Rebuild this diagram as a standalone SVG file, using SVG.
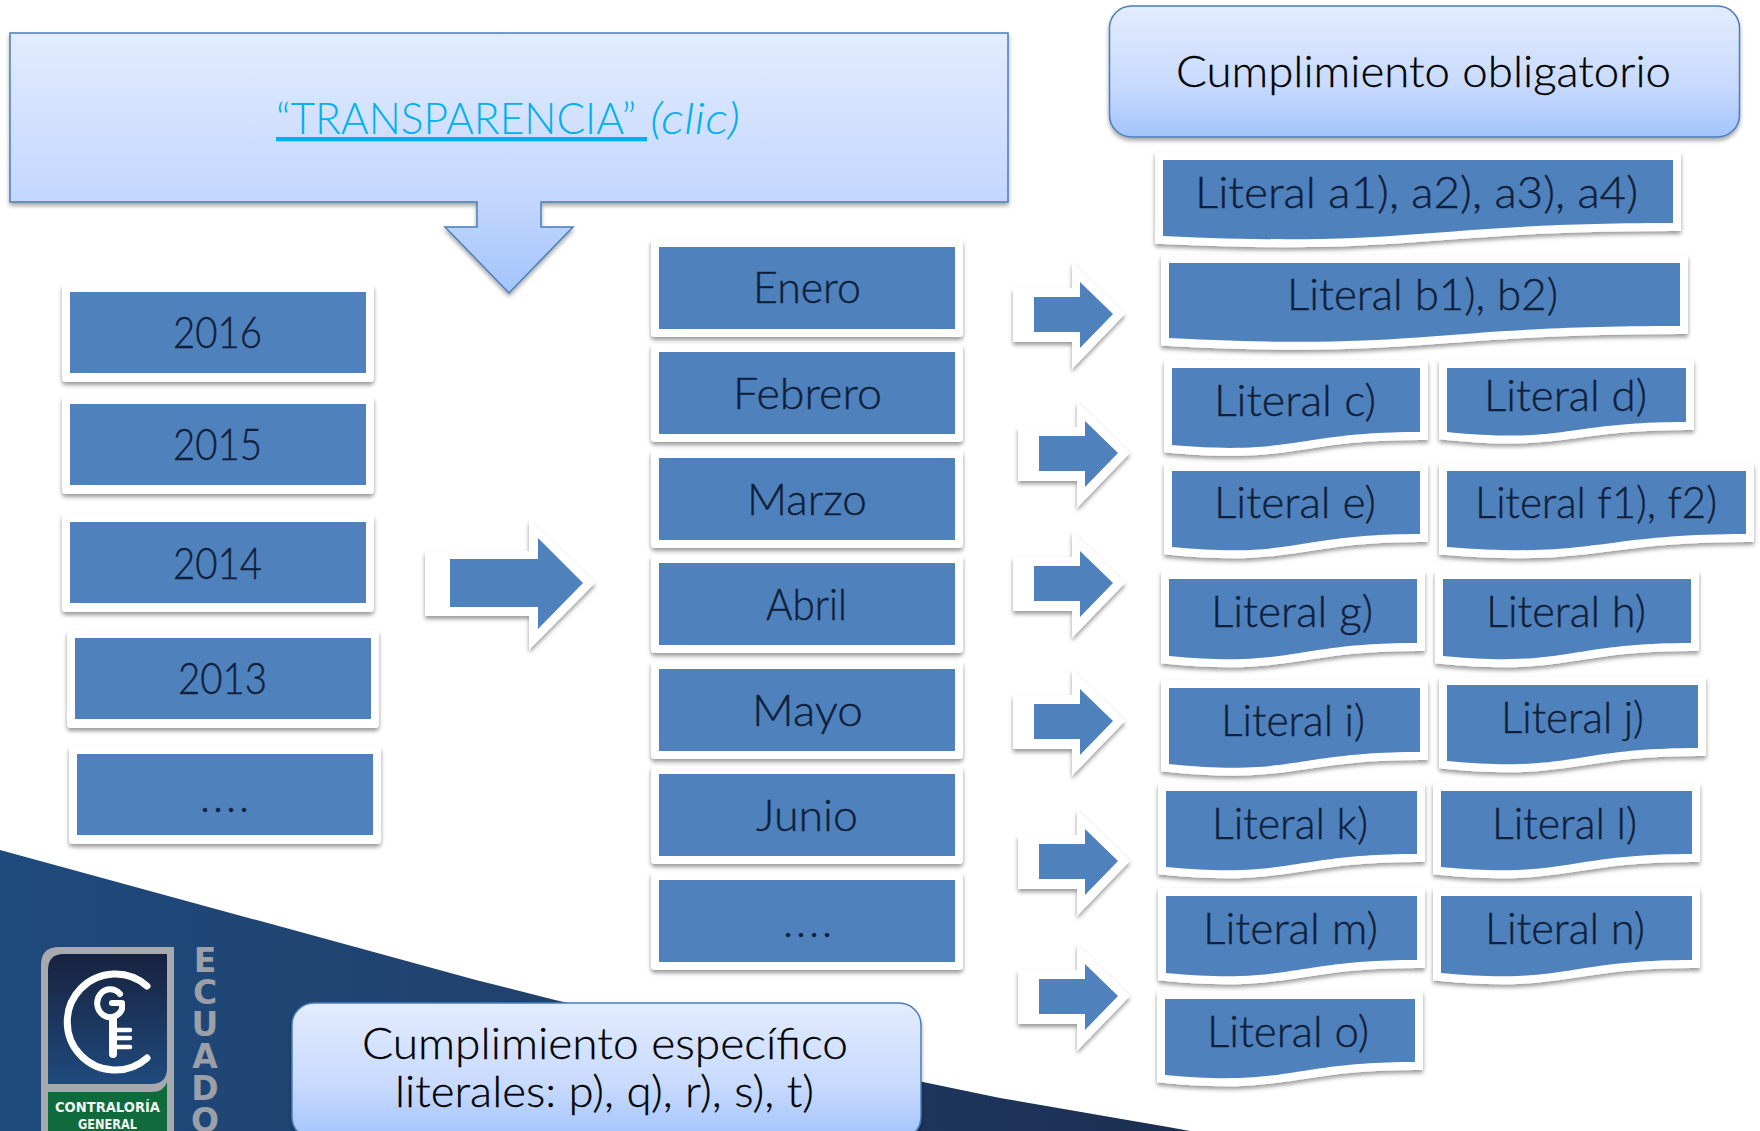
<svg xmlns="http://www.w3.org/2000/svg" width="1760" height="1131" viewBox="0 0 1760 1131">
<style>
text{font-family:"Lato","Liberation Sans",sans-serif;font-weight:300}
.o{fill:#fff;filter:url(#sh)}
.d{stroke:#fff;stroke-width:16;stroke-linejoin:miter;paint-order:stroke;filter:url(#sh)}
.f{fill:#4f81bd}
.t{font-size:43px;fill:#0f1f3a;stroke:#0f1f3a;stroke-width:.4px}
.k{font-size:43px;fill:#000;stroke:#000;stroke-width:.3px}
.b{stroke:#4a7ebb;stroke-width:1.5;filter:url(#sh2)}
.link{font-size:43px;fill:#00b0f0}
.w{fill:none;stroke:#fff;stroke-linecap:round;stroke-linejoin:round}
.lg{font-family:"DejaVu Sans",sans-serif;font-weight:700}
</style>
<defs>
<filter id="sh" x="-10%" y="-20%" width="120%" height="140%"><feDropShadow dx="0" dy="3" stdDeviation="2" flood-color="#000" flood-opacity=".4"/></filter>
<filter id="sh2" x="-5%" y="-10%" width="110%" height="120%"><feDropShadow dx="0" dy="3" stdDeviation="2" flood-color="#000" flood-opacity=".35"/></filter>
<linearGradient id="gTop" gradientUnits="userSpaceOnUse" x1="0" y1="33" x2="0" y2="293"><stop offset="0" stop-color="#e3ecff"/><stop offset=".65" stop-color="#c2d6fd"/><stop offset="1" stop-color="#a3c4fc"/></linearGradient>
<linearGradient id="gBox" x1="0" y1="0" x2="0" y2="1"><stop offset="0" stop-color="#e3ecff"/><stop offset=".6" stop-color="#c8dafe"/><stop offset="1" stop-color="#a3c4fc"/></linearGradient>
<linearGradient id="gBg" gradientUnits="userSpaceOnUse" x1="0" y1="0" x2="1190" y2="0"><stop offset="0" stop-color="#1e4a7c"/><stop offset=".42" stop-color="#21426e"/><stop offset="1" stop-color="#1b2e50"/></linearGradient>
<linearGradient id="gLogo" x1="0" y1="0" x2="0" y2="1"><stop offset="0" stop-color="#18223f"/><stop offset="1" stop-color="#1f4a7d"/></linearGradient>
<g id="sa"><polygon class="o" points="-100,-26 -41,-26 -41,-52 12,0 -41,55 -41,28 -100,28"/><polygon class="f" points="-79,-17 -33,-17 -33,-32 0,0 -33,34 -33,18 -79,18"/></g>
</defs>
<rect width="1760" height="1131" fill="#fff"/>
<g id="background"><path fill="url(#gBg)" d="M0 850L476 980L555 1000L923 1082L1000 1098L1168 1127L1190 1131H0Z"/></g>
<g id="logo">
<path fill="#a6a9ae" d="M41 1131V965Q41 947 59 947H174V1131Z"/>
<path fill="url(#gLogo)" d="M48 1084V970Q48 954 64 954H167V1068Q167 1084 151 1084Z"/>
<path fill="#0f6b3c" d="M48 1131V1092H151Q164 1092 167 1082V1131Z"/>
<path class="w" stroke-width="7" d="M147 986A48 48 0 1 0 147 1058"/>
<path class="w" stroke-width="6" d="M120 994A13 14 0 1 0 122 1009V1003H112"/>
<path class="w" stroke-width="8" d="M113 1018V1054"/>
<path class="w" stroke-width="4.5" d="M115 1030H130M115 1038H130M115 1047H130"/>
<text class="lg" x="55" y="1112" font-size="14" fill="#f2f5f2" textLength="105" lengthAdjust="spacingAndGlyphs">CONTRALORÍA</text>
<text class="lg" x="78" y="1129" font-size="14" fill="#f2f5f2" textLength="59" lengthAdjust="spacingAndGlyphs">GENERAL</text>
<text class="lg" x="205" y="941" font-size="33" fill="#9a9fa8" style="writing-mode:vertical-rl;text-orientation:upright;letter-spacing:-7px">ECUADO</text>
</g>
<g id="connectors">
<g id="arrow-years"><polygon class="o" points="425,551 529,551 529,519 595,583 529,650 529,616 425,616"/><polygon class="f" points="450,559 538,559 538,538 583,583 538,629 538,607 450,607"/></g>
<use href="#sa" x="1113" y="314"/>
<use href="#sa" x="1118" y="453"/>
<use href="#sa" x="1113" y="583"/>
<use href="#sa" x="1113" y="721"/>
<use href="#sa" x="1118" y="861"/>
<use href="#sa" x="1118" y="996"/>
</g>
<g id="transparencia">
<path class="b" fill="url(#gTop)" d="M10 33H1008V202H541V227H573L509 293L445 227H477V202H10Z"/>
<text class="link" x="276" y="134" textLength="371" lengthAdjust="spacingAndGlyphs" text-decoration="underline" style="white-space:pre">“TRANSPARENCIA” </text>
<text class="link" x="650" y="134" font-style="italic" textLength="90" lengthAdjust="spacingAndGlyphs">(clic)</text>
</g>
<g id="obligatorio"><rect class="b" fill="url(#gBox)" x="1109.500" y="6" width="630" height="131" rx="22"/><text class="k" x="1176" y="87" textLength="495" lengthAdjust="spacingAndGlyphs">Cumplimiento obligatorio</text></g>
<g id="especifico"><rect class="b" fill="url(#gBox)" x="292" y="1003" width="629" height="136" rx="22"/><text class="k" x="362" y="1059" textLength="486" lengthAdjust="spacingAndGlyphs">Cumplimiento específico</text><text class="k" x="395" y="1107" textLength="419" lengthAdjust="spacingAndGlyphs">literales: p), q), r), s), t)</text></g>

<g id="y2016"><rect class="o" x="62" y="284" width="312" height="98" rx="4"/><rect class="f" x="70" y="292" width="296" height="81"/><text class="t" x="173" y="348" textLength="89" lengthAdjust="spacingAndGlyphs">2016</text></g>
<g id="y2015"><rect class="o" x="62" y="396" width="312" height="98" rx="4"/><rect class="f" x="70" y="404" width="296" height="81"/><text class="t" x="173" y="460" textLength="89" lengthAdjust="spacingAndGlyphs">2015</text></g>
<g id="y2014"><rect class="o" x="62" y="514" width="312" height="98" rx="4"/><rect class="f" x="70" y="522" width="296" height="81"/><text class="t" x="173" y="579" textLength="89" lengthAdjust="spacingAndGlyphs">2014</text></g>
<g id="y2013"><rect class="o" x="67" y="630" width="312" height="98" rx="4"/><rect class="f" x="75" y="638" width="296" height="81"/><text class="t" x="178" y="694" textLength="89" lengthAdjust="spacingAndGlyphs">2013</text></g>
<g id="ymore"><rect class="o" x="69" y="746" width="312" height="98" rx="4"/><rect class="f" x="77" y="754" width="296" height="81"/><text class="t" x="200" y="812" textLength="49" lengthAdjust="spacing">....</text></g>

<g id="enero"><rect class="o" x="651" y="239" width="312" height="98" rx="4"/><rect class="f" x="659" y="247" width="296" height="82"/><text class="t" x="753" y="303" textLength="108" lengthAdjust="spacingAndGlyphs">Enero</text></g>
<g id="febrero"><rect class="o" x="651" y="344" width="312" height="98" rx="4"/><rect class="f" x="659" y="352" width="296" height="82"/><text class="t" x="733" y="409" textLength="149" lengthAdjust="spacingAndGlyphs">Febrero</text></g>
<g id="marzo"><rect class="o" x="651" y="450" width="312" height="98" rx="4"/><rect class="f" x="659" y="458" width="296" height="82"/><text class="t" x="747" y="515" textLength="120" lengthAdjust="spacingAndGlyphs">Marzo</text></g>
<g id="abril"><rect class="o" x="651" y="555" width="312" height="98" rx="4"/><rect class="f" x="659" y="563" width="296" height="82"/><text class="t" x="766" y="620" textLength="81" lengthAdjust="spacingAndGlyphs">Abril</text></g>
<g id="mayo"><rect class="o" x="651" y="661" width="312" height="98" rx="4"/><rect class="f" x="659" y="669" width="296" height="82"/><text class="t" x="752" y="726" textLength="111" lengthAdjust="spacingAndGlyphs">Mayo</text></g>
<g id="junio"><rect class="o" x="651" y="766" width="312" height="98" rx="4"/><rect class="f" x="659" y="774" width="296" height="82"/><text class="t" x="756" y="831" textLength="102" lengthAdjust="spacingAndGlyphs">Junio</text></g>
<g id="mmore"><rect class="o" x="651" y="872" width="312" height="98" rx="4"/><rect class="f" x="659" y="880" width="296" height="82"/><text class="t" x="783" y="937" textLength="49" lengthAdjust="spacing">....</text></g>

<g id="la"><path class="d f" d="M1163 160H1673V223C1418 223 1418 248 1163 236Z"/><text class="t" x="1195" y="208" textLength="443" lengthAdjust="spacingAndGlyphs">Literal a1), a2), a3), a4)</text></g>
<g id="lb"><path class="d f" d="M1169 263H1680V326C1424 326 1424 351 1169 338Z"/><text class="t" x="1287" y="310" textLength="271" lengthAdjust="spacingAndGlyphs">Literal b1), b2)</text></g>
<g id="lc"><path class="d f" d="M1172 368H1420V432C1296 432 1296 456 1172 445Z"/><text class="t" x="1214" y="416" textLength="162" lengthAdjust="spacingAndGlyphs">Literal c)</text></g>
<g id="ld"><path class="d f" d="M1447 368H1686V422C1566 422 1566 444 1447 432Z"/><text class="t" x="1484" y="411" textLength="163" lengthAdjust="spacingAndGlyphs">Literal d)</text></g>
<g id="le"><path class="d f" d="M1172 471H1420V534C1296 534 1296 559 1172 547Z"/><text class="t" x="1214" y="518" textLength="162" lengthAdjust="spacingAndGlyphs">Literal e)</text></g>
<g id="lf"><path class="d f" d="M1447 471H1746V534C1596 534 1596 559 1447 547Z"/><text class="t" x="1475" y="518" textLength="242" lengthAdjust="spacingAndGlyphs">Literal f1), f2)</text></g>
<g id="lg"><path class="d f" d="M1169 579H1417V643C1293 643 1293 668 1169 656Z"/><text class="t" x="1211" y="627" textLength="162" lengthAdjust="spacingAndGlyphs">Literal g)</text></g>
<g id="lh"><path class="d f" d="M1443 579H1691V643C1567 643 1567 668 1443 656Z"/><text class="t" x="1486" y="627" textLength="160" lengthAdjust="spacingAndGlyphs">Literal h)</text></g>
<g id="li"><path class="d f" d="M1169 688H1420V752C1294 752 1294 777 1169 764Z"/><text class="t" x="1221" y="736" textLength="144" lengthAdjust="spacingAndGlyphs">Literal i)</text></g>
<g id="lj"><path class="d f" d="M1447 685H1698V748C1572 748 1572 773 1447 761Z"/><text class="t" x="1501" y="733" textLength="143" lengthAdjust="spacingAndGlyphs">Literal j)</text></g>
<g id="lk"><path class="d f" d="M1166 791H1417V854C1291 854 1291 879 1166 867Z"/><text class="t" x="1212" y="839" textLength="156" lengthAdjust="spacingAndGlyphs">Literal k)</text></g>
<g id="ll"><path class="d f" d="M1441 791H1692V854C1566 854 1566 879 1441 867Z"/><text class="t" x="1492" y="839" textLength="145" lengthAdjust="spacingAndGlyphs">Literal l)</text></g>
<g id="lm"><path class="d f" d="M1166 896H1417V960C1291 960 1291 985 1166 973Z"/><text class="t" x="1203" y="944" textLength="175" lengthAdjust="spacingAndGlyphs">Literal m)</text></g>
<g id="ln"><path class="d f" d="M1441 896H1692V960C1566 960 1566 985 1441 973Z"/><text class="t" x="1485" y="944" textLength="160" lengthAdjust="spacingAndGlyphs">Literal n)</text></g>
<g id="lo"><path class="d f" d="M1165 999H1415V1062C1290 1062 1290 1087 1165 1075Z"/><text class="t" x="1207" y="1047" textLength="162" lengthAdjust="spacingAndGlyphs">Literal o)</text></g>
</svg>
